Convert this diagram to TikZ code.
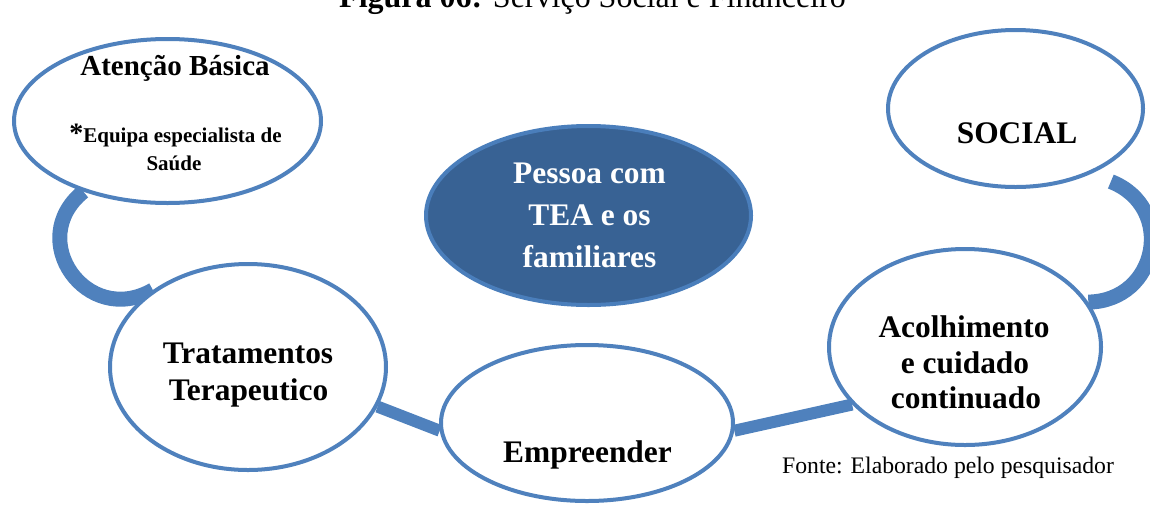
\documentclass[tikz,border=0pt]{standalone}
\usepackage{fontspec}
\setmainfont{Liberation Serif}
\usetikzlibrary{shapes.geometric,calc}
\pgfdeclarelayer{background}
\pgfsetlayers{background,main}
\definecolor{ringblue}{RGB}{79,129,189}
\definecolor{darkblue}{RGB}{56,98,148}
\definecolor{darkedge}{RGB}{74,126,187}
\begin{document}
\begin{tikzpicture}[x=1pt,y=1pt,
  bubble/.style={ellipse, draw=ringblue, line width=4pt, fill=white, inner sep=0pt},
  link/.style={draw=ringblue, line width=12pt},
  curl/.style={draw=ringblue, line width=15pt},
  lbl/.style={anchor=base, inner sep=0pt, font=\fontsize{31.4}{36}\selectfont\bfseries},
  small/.style={anchor=base, inner sep=0pt, font=\fontsize{21}{25}\selectfont\bfseries},
]
\useasboundingbox (0,0) rectangle (1150,-504);

% bubbles
\node[bubble, minimum width=307pt, minimum height=164pt] (atencao) at (167.5,-121) {};
\node[bubble, minimum width=255pt, minimum height=157pt] (social) at (1015.5,-108.5) {};
\node[ellipse, draw=darkedge, fill=darkblue, line width=4pt, inner sep=0pt,
      minimum width=325pt, minimum height=179pt] (pessoa) at (588.5,-215.5) {};
\node[bubble, minimum width=276pt, minimum height=206pt] (trat) at (248,-367) {};
\node[bubble, minimum width=292pt, minimum height=156pt] (emp) at (587,-423) {};
\node[bubble, minimum width=272pt, minimum height=196pt] (acol) at (965,-347) {};
\coordinate (socialgap) at ($(social.-32)+(4,-16)$);

% connectors
\begin{pgfonlayer}{background}
\draw[curl] (atencao.220) .. controls +(219:76) and +(210:76) .. (trat.141);
\draw[curl] (socialgap) .. controls +(-21.5:70) and +(1:70) .. (acol.20);
\draw[link] (trat.-17) -- (emp.183);
\draw[link] (emp.-3) -- (acol.207);
\end{pgfonlayer}

% texts
\node[anchor=base, inner sep=0pt, font=\fontsize{32}{36}\selectfont] (title) at (592.5,-7)
  {\textbf{Figura 06:} Serviço Social e Financeiro};
\node[lbl, font=\fontsize{29}{34}\selectfont\bfseries] (t1) at (175,-75) {Atenção Básica};
\node[small] (t2) at (175.5,-142) {{\fontsize{28}{28}\selectfont *}Equipa especialista de};
\node[small] (t3) at (174,-170) {Saúde};
\node[lbl] (t4) at (1017,-143) {SOCIAL};
\node[lbl, text=white] (t5) at (589.5,-183) {Pessoa com};
\node[lbl, text=white] (t6) at (589.5,-225) {TEA e os};
\node[lbl, text=white] (t7) at (589.5,-267) {familiares};
\node[lbl] (t8) at (248,-363) {Tratamentos};
\node[lbl] (t9) at (248.5,-400) {Terapeutico};
\node[lbl] (t10) at (587.5,-462) {Empreender};
\node[lbl] (t11) at (964,-337) {Acolhimento};
\node[lbl] (t12) at (965,-373) {e cuidado};
\node[lbl] (t13) at (966,-408) {continuado};
\node[anchor=base west, inner sep=0pt, font=\fontsize{23.7}{28}\selectfont] (fonte) at (782,-473)
  {Fonte: Elaborado pelo pesquisador};
\end{tikzpicture}
\end{document}
